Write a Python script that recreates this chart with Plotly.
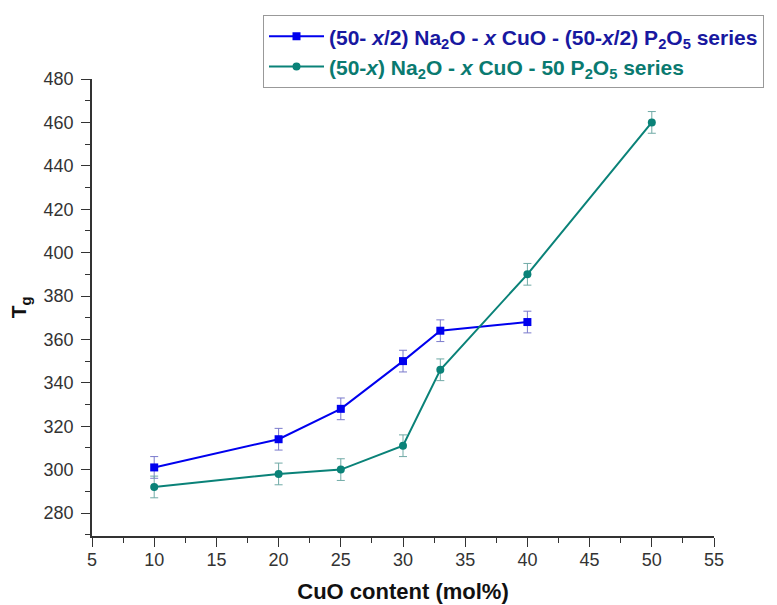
import plotly.graph_objects as go

cuo_a = [10, 20, 25, 30, 33, 40]
tg_a = [301, 314, 328, 350, 364, 368]
err_a = [5, 5, 5, 5, 5, 5]

cuo_b = [10, 20, 25, 30, 33, 40, 50]
tg_b = [292, 298, 300, 311, 346, 390, 460]
err_b = [5, 5, 5, 5, 5, 5, 5]

name_a = "(50- <i>x</i>/2) Na<sub>2</sub>O - <i>x</i> CuO - (50-<i>x</i>/2) P<sub>2</sub>O<sub>5</sub> series"
name_b = "(50-<i>x</i>) Na<sub>2</sub>O - <i>x</i> CuO - 50 P<sub>2</sub>O<sub>5</sub> series"

blue = "#0000EE"
teal = "#0A8278"

fig = go.Figure()
fig.add_trace(go.Scatter(
    x=cuo_a, y=tg_a, mode="lines+markers",
    name="<b><span style='color:#1818A0'>" + name_a + "</span></b>",
    line=dict(color=blue, width=2),
    marker=dict(symbol="square", size=8, color=blue),
    error_y=dict(type="data", array=err_a, color="#7A7ACC", thickness=1, width=4),
))
fig.add_trace(go.Scatter(
    x=cuo_b, y=tg_b, mode="lines+markers",
    name="<b><span style='color:#0A7A70'>" + name_b + "</span></b>",
    line=dict(color=teal, width=2),
    marker=dict(symbol="circle", size=8, color=teal),
    error_y=dict(type="data", array=err_b, color="#70AAA6", thickness=1, width=4),
))

axis_common = dict(
    showline=True, linecolor="#333333", linewidth=1.5,
    ticks="outside", ticklen=9, tickwidth=1.2, tickcolor="#333333",
    showgrid=False, zeroline=False,
    tickfont=dict(family="Arial, Liberation Sans", size=18, color="#333333"),
)

fig.update_xaxes(
    range=[5, 55], tick0=5, dtick=5, ticklabelstandoff=-2,
    minor=dict(ticks="outside", ticklen=5, tickcolor="#333333", dtick=2.5, tick0=5),
    title=dict(text="<b>CuO content (mol%)</b>", font=dict(family="Arial, Liberation Sans", size=22, color="#111111"), standoff=14),
    **axis_common,
)
fig.update_yaxes(
    range=[269.4, 480], tick0=280, dtick=20, ticklabelstandoff=4,
    minor=dict(ticks="outside", ticklen=5, tickcolor="#333333", dtick=10, tick0=280),
    **axis_common,
)

fig.add_annotation(
    text="<b>T<sub>g</sub></b>", textangle=-90, showarrow=False,
    xref="paper", yref="paper", x=-0.116, y=0.5, xanchor="center", yanchor="middle",
    font=dict(family="Arial, Liberation Sans", size=21, color="#111111"),
)

fig.update_layout(
    width=769, height=597,
    margin=dict(l=84, r=63, t=71, b=69, autoexpand=False),
    plot_bgcolor="white", paper_bgcolor="white",
    showlegend=True,
    legend=dict(
        xref="container", yref="container",
        x=0.3316, y=0.988, xanchor="left", yanchor="top",
        bordercolor="#999999", borderwidth=1, bgcolor="white",
        font=dict(family="Arial, Liberation Sans", size=21),
        tracegroupgap=0, itemwidth=55,
    ),
)

fig.write_html("out.html")
